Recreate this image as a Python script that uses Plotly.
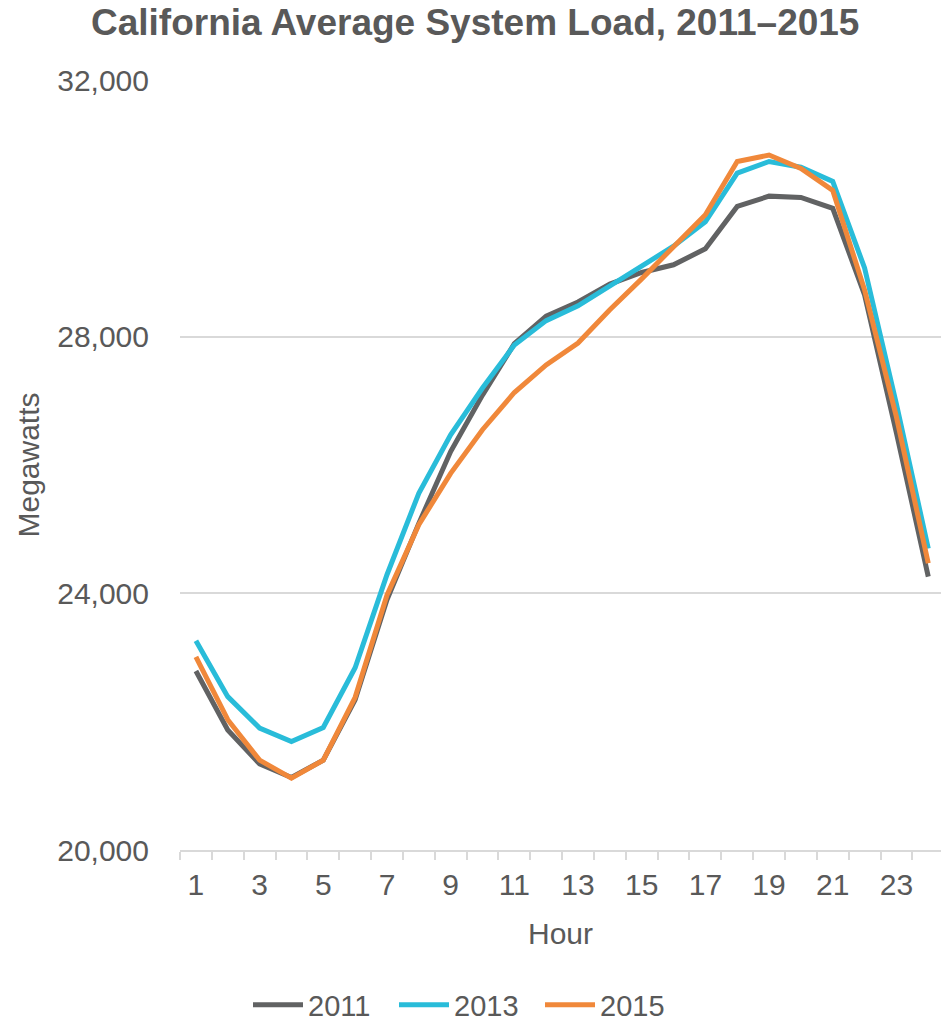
import plotly.graph_objects as go

# Hourly average system load (MW)
hours = list(range(1, 25))
load_2011 = [22790, 21870, 21340, 21130, 21400, 22340, 23900, 25090, 26210, 27090, 27890, 28320,
             28540, 28820, 29000, 29120, 29370, 30030, 30190, 30170, 30000, 28650, 26500, 24260]
load_2013 = [23260, 22390, 21900, 21690, 21910, 22840, 24290, 25560, 26470, 27200, 27870, 28250,
             28480, 28790, 29090, 29410, 29790, 30550, 30730, 30640, 30420, 29070, 26950, 24700]
load_2015 = [23010, 22030, 21400, 21120, 21400, 22380, 23970, 25070, 25870, 26550, 27130, 27560,
             27900, 28420, 28900, 29400, 29900, 30730, 30830, 30620, 30280, 28730, 26750, 24470]

series_names = ["2011", "2013", "2015"]
series_values = [load_2011, load_2013, load_2015]
series_colors = ["#616263", "#29BCD9", "#F0883A"]

x_tick_vals = list(range(1, 24, 2))
y_tick_vals = [20000, 24000, 28000, 32000]

TEXT = "#595959"
GRID = "#d9d9d9"
FONT = "Liberation Sans, Arial, sans-serif"

fig = go.Figure()
for name, vals, color in zip(series_names, series_values, series_colors):
    fig.add_trace(go.Scatter(
        x=hours, y=vals, name=name, mode="lines",
        line=dict(color=color, width=5, shape="linear"),
    ))

fig.update_layout(
    width=941, height=1025,
    margin=dict(l=180, r=0, t=80, b=175, autoexpand=False),
    paper_bgcolor="white", plot_bgcolor="white",
    font=dict(family=FONT, color=TEXT, size=30),
    title=dict(
        text="<b>California Average System Load, 2011–2015</b>",
        font=dict(size=37, color=TEXT, family=FONT),
        x=0.505, xref="container", xanchor="center",
        y=1 - 22 / 1025, yref="container", yanchor="middle",
    ),
    showlegend=True,
    legend=dict(
        orientation="h", x=248 / 941, xref="container", xanchor="left",
        y=1 - 1005 / 1025, yref="container", yanchor="middle",
        font=dict(size=29, color=TEXT), itemwidth=50,
        entrywidth=81, entrywidthmode="pixels",
        bgcolor="rgba(0,0,0,0)",
    ),
)

fig.update_xaxes(
    range=[0.5, 24.4],
    tickmode="array", tickvals=x_tick_vals, ticktext=[str(v) for v in x_tick_vals],
    ticks="", ticklabelstandoff=7,
    tickfont=dict(size=30, color=TEXT),
    showgrid=False, zeroline=False,
    showline=True, linecolor=GRID, linewidth=2,
    minor=dict(tick0=0.5, dtick=1, ticks="outside", ticklen=8, tickwidth=2, tickcolor=GRID, showgrid=False),
    title=dict(text="Hour", font=dict(size=30, color=TEXT), standoff=23),
)

fig.update_yaxes(
    range=[20000, 32000],
    tickmode="array", tickvals=y_tick_vals, tickformat=",",
    ticks="", ticklabelstandoff=30,
    tickfont=dict(size=30, color=TEXT),
    showgrid=True, gridcolor=GRID, gridwidth=1.5,
    zeroline=False, showline=False,
    title=dict(text="Megawatts", font=dict(size=30, color=TEXT), standoff=8),
)

fig.write_html("out.html")
